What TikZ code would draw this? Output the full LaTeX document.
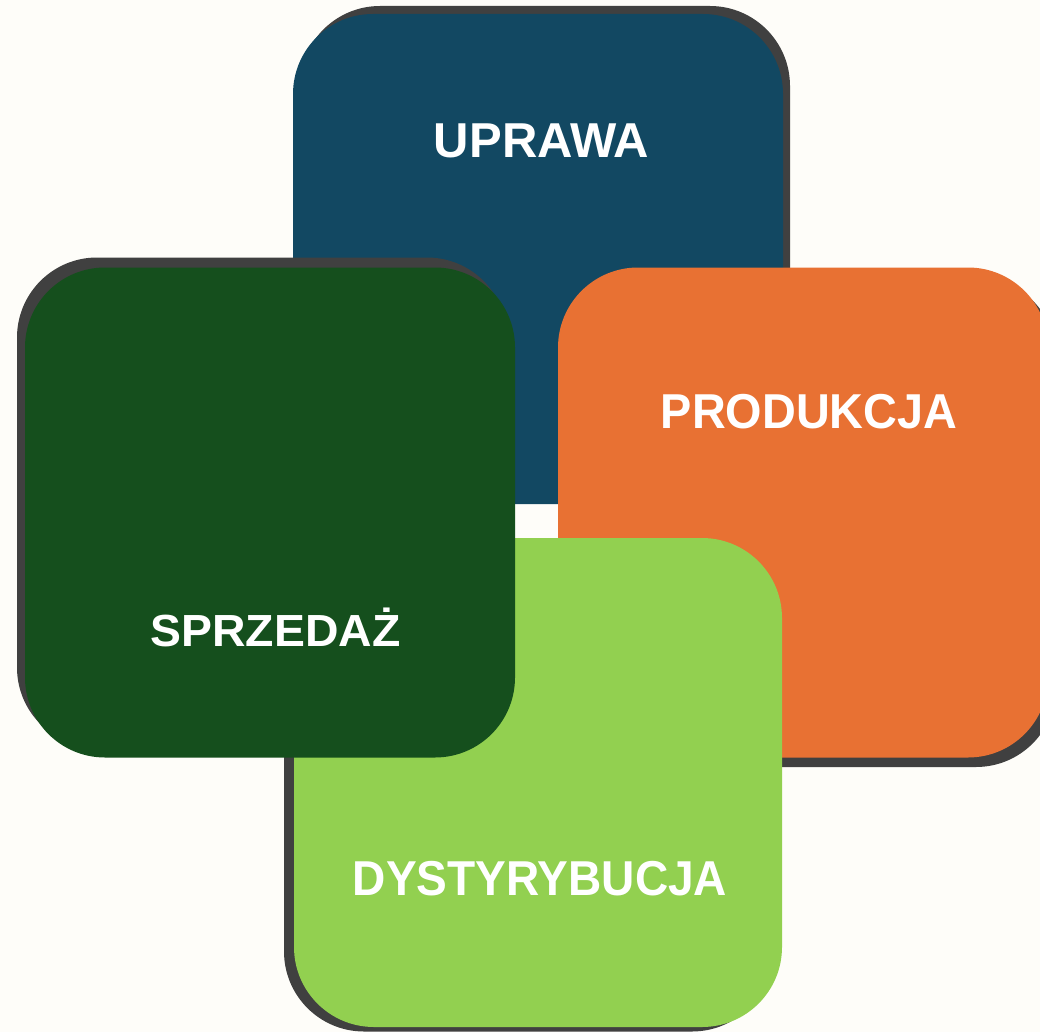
\documentclass[tikz,border=0pt]{standalone}
\usepackage{fontspec}
\setmainfont{Liberation Sans}
\usepackage{graphicx}
\definecolor{bgcream}{HTML}{FEFDF9}
\definecolor{shadowgray}{HTML}{404040}
\definecolor{boxblue}{HTML}{124862}
\definecolor{boxdark}{HTML}{154F1D}
\definecolor{boxorange}{HTML}{E87133}
\definecolor{boxlight}{HTML}{92D050}
\tikzset{
  card/.style={rectangle, inner sep=0pt, minimum width=490pt, minimum height=490pt, rounded corners=80pt},
  cardshadow/.style={card, fill=shadowgray},
  cardlabel/.style={text=white, font=\bfseries\fontsize{49}{49}\selectfont, inner sep=0pt, anchor=base}
}
\begin{document}
\begin{tikzpicture}[x=1pt,y=-1pt]
\useasboundingbox (0,0) rectangle (1040,1032);
\clip (0,0) rectangle (1040,1032);
\fill[bgcream] (0,0) rectangle (1040,1032);
% UPRAWA (blue)
\node[cardshadow] (s1) at (545,251) {};
\node[card, fill=boxblue] (b1) at (538,259) {};
% PRODUKCJA (orange)
\node[cardshadow] (s2) at (811,522) {};
\node[card, fill=boxorange] (b2) at (803,512.5) {};
% DYSTYRYBUCJA (light green)
\node[cardshadow, minimum width=488pt, minimum height=489pt] (s3) at (528,787) {};
\node[card, fill=boxlight, minimum width=488pt, minimum height=489pt] (b3) at (538,782.5) {};
% SPRZEDAZ (dark green)
\node[cardshadow] (s4) at (262,502.5) {};
\node[card, fill=boxdark] (b4) at (270,512.5) {};
% labels
\node[cardlabel] (t1) at (541.5,158) {UPRAWA};
\node[cardlabel] (t2) at (809,428) {\scalebox{0.955}[1]{PRODUKCJA}};
\node[cardlabel, font=\bfseries\fontsize{45}{45}\selectfont] (t4) at (275.5,646) {\scalebox{1.03}[1]{SPRZEDAŻ}};
\node[cardlabel] (t3) at (540,895) {\scalebox{0.94}[1]{DYSTYRYBUCJA}};
\end{tikzpicture}
\end{document}
